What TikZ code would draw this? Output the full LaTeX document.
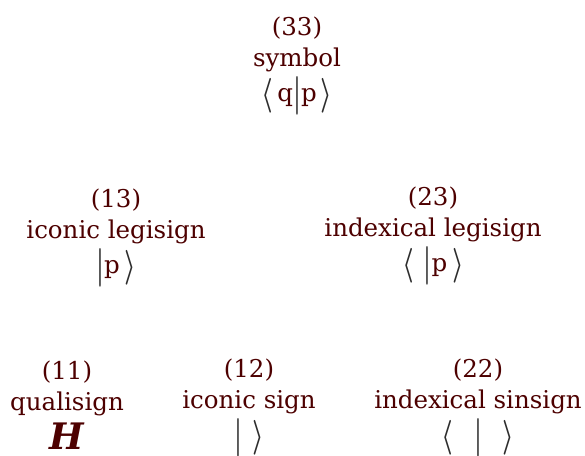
\documentclass[tikz,border=0pt]{standalone}
\usepackage{fontspec,graphicx}
\setmainfont{DejaVu Serif}
\definecolor{signred}{RGB}{77,0,0}
\definecolor{bargray}{RGB}{45,45,45}
\newcommand{\sgnL}{{\color{bargray}\boldmath\raisebox{-3pt}{\scalebox{1.05}[1.4]{$\langle$}}}}
\newcommand{\sgnR}{{\color{bargray}\boldmath\raisebox{-3pt}{\scalebox{1.05}[1.4]{$\rangle$}}}}
\newcommand{\sgnB}{{\color{bargray}\boldmath\raisebox{-4pt}{\scalebox{1}[1.55]{$|$}}}}

\begin{document}
\begin{tikzpicture}[x=1pt,y=-1pt,
  sign/.style={text=signred,align=center,inner sep=0pt,anchor=north,font=\fontsize{24.5}{31}\selectfont}]
  \useasboundingbox (0,0) rectangle (585,455);
  \node[sign] (symbol) at (297,17) {(33)\\symbol\\[4pt]\sgnL\,q\sgnB p\hspace{4pt}\sgnR};
  \node[sign] (iconleg) at (116,189) {(13)\\iconic legisign\\[4pt]\sgnB p\,\sgnR};
  \node[sign] (indexleg) at (433,187) {(23)\\indexical legisign\\[4pt]\sgnL\hspace{10pt}\sgnB p\hspace{5pt}\sgnR};
  \node[sign] (quali) at (67,361) {(11)\\qualisign\\[6pt]{\fontsize{36.5}{36.5}\selectfont\bfseries\itshape H}};
  \node[sign] (iconsin) at (249,359) {(12)\\iconic sign\\[4pt]\sgnB\hspace{10pt}\sgnR};
  \node[sign] (indexsin) at (478,359) {(22)\\indexical sinsign\\[4pt]\sgnL\hspace{21pt}\sgnB\hspace{21pt}\sgnR};
\end{tikzpicture}
\end{document}
